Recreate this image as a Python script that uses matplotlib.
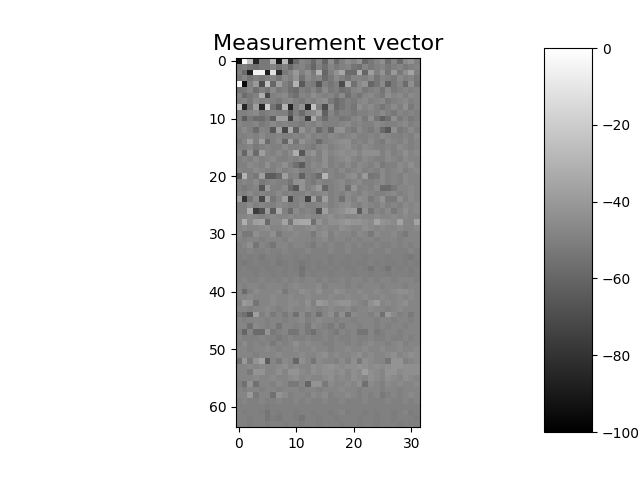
import matplotlib
matplotlib.use("Agg")
import matplotlib.pyplot as plt
import numpy as np

# values in dB
rows_00_15 = [
    [-95, -2, -25, -85, -52, -52, -28, -90, -28, -82, -58, -48, -50, -58, -48, -60, -45, -58, -50, -44, -48, -42, -58, -52, -48, -44, -56, -48, -58, -46, -42, -50],
    [-52, -50, -54, -56, -52, -52, -48, -55, -50, -58, -50, -48, -52, -60, -50, -56, -48, -52, -50, -48, -54, -56, -48, -52, -50, -48, -52, -50, -48, -52, -50, -48],
    [-50, -58, -88, -5, -5, -88, -12, -82, -52, -48, -40, -50, -44, -52, -30, -60, -50, -42, -35, -58, -58, -32, -60, -38, -50, -42, -54, -40, -52, -44, -36, -50],
    [-52, -48, -54, -50, -52, -50, -48, -54, -46, -50, -42, -55, -46, -50, -48, -58, -52, -46, -50, -54, -48, -48, -50, -46, -54, -48, -50, -52, -46, -50, -48, -52],
    [-3, -96, -50, -40, -70, -25, -60, -38, -50, -55, -30, -65, -50, -52, -66, -50, -54, -50, -70, -35, -56, -46, -42, -60, -54, -46, -62, -52, -48, -58, -44, -54],
    [-54, -52, -48, -56, -50, -54, -46, -52, -50, -56, -58, -50, -52, -48, -54, -46, -52, -50, -56, -54, -48, -46, -52, -50, -48, -54, -46, -52, -50, -48, -50, -48],
    [-48, -58, -52, -50, -32, -72, -50, -48, -46, -52, -56, -48, -50, -44, -48, -50, -48, -52, -46, -56, -50, -54, -48, -46, -50, -52, -44, -48, -46, -50, -46, -48],
    [-50, -48, -52, -46, -50, -48, -50, -52, -48, -46, -50, -52, -48, -50, -46, -44, -52, -58, -54, -50, -52, -48, -46, -50, -48, -46, -52, -50, -48, -46, -50, -48],
    [-25, -85, -55, -38, -85, -20, -55, -65, -30, -85, -50, -42, -85, -25, -50, -70, -44, -58, -54, -50, -54, -44, -48, -46, -50, -54, -50, -46, -50, -44, -52, -48],
    [-50, -50, -48, -46, -52, -50, -48, -50, -50, -62, -50, -58, -48, -46, -38, -62, -48, -54, -50, -50, -52, -50, -50, -48, -50, -46, -50, -52, -48, -50, -48, -50],
    [-50, -64, -52, -58, -58, -52, -64, -38, -38, -74, -46, -50, -76, -34, -50, -58, -50, -50, -54, -52, -48, -46, -52, -44, -54, -62, -56, -44, -52, -48, -52, -50],
    [-48, -50, -50, -48, -52, -50, -46, -50, -48, -50, -50, -52, -48, -50, -46, -50, -50, -50, -48, -46, -50, -48, -50, -50, -46, -48, -50, -50, -48, -46, -50, -48],
    [-50, -46, -50, -58, -48, -50, -66, -38, -72, -34, -62, -42, -50, -46, -58, -50, -60, -44, -42, -50, -52, -46, -50, -52, -48, -58, -66, -44, -52, -50, -46, -50],
    [-50, -50, -48, -50, -46, -50, -50, -48, -50, -50, -48, -50, -46, -50, -48, -50, -46, -48, -50, -48, -46, -50, -50, -48, -50, -46, -48, -50, -50, -48, -50, -46],
    [-52, -48, -38, -50, -38, -58, -50, -46, -60, -38, -54, -42, -48, -50, -58, -50, -48, -46, -44, -44, -50, -48, -50, -46, -50, -52, -46, -48, -50, -46, -50, -48],
    [-50, -50, -48, -52, -50, -48, -50, -50, -46, -50, -50, -48, -50, -52, -48, -46, -50, -48, -46, -44, -48, -50, -46, -48, -50, -50, -48, -50, -46, -48, -50, -48],
]

rows_16_31 = [
    [-46, -60, -42, -58, -38, -48, -50, -46, -50, -46, -32, -66, -46, -42, -50, -44, -48, -46, -44, -46, -44, -48, -44, -44, -44, -50, -46, -50, -48, -44, -48, -46],
    [-50, -48, -50, -46, -50, -48, -46, -50, -50, -48, -50, -46, -50, -48, -50, -44, -50, -48, -46, -44, -48, -50, -46, -48, -50, -50, -46, -48, -50, -46, -48, -48],
    [-50, -50, -46, -48, -50, -44, -50, -48, -44, -50, -56, -64, -50, -46, -48, -44, -50, -48, -50, -46, -50, -46, -48, -50, -46, -52, -50, -50, -46, -48, -44, -48],
    [-48, -50, -50, -46, -48, -50, -50, -46, -50, -48, -46, -50, -50, -48, -46, -50, -48, -50, -46, -50, -48, -46, -50, -48, -50, -46, -50, -48, -46, -50, -48, -46],
    [-66, -30, -50, -52, -38, -64, -64, -58, -38, -50, -48, -62, -50, -52, -58, -30, -48, -50, -50, -46, -44, -50, -40, -54, -52, -46, -50, -48, -50, -46, -48, -48],
    [-50, -48, -50, -46, -52, -50, -48, -50, -50, -54, -44, -42, -50, -52, -48, -50, -50, -48, -46, -50, -48, -46, -50, -50, -48, -46, -50, -48, -50, -46, -48, -48],
    [-50, -52, -50, -48, -66, -40, -50, -50, -46, -58, -66, -42, -50, -46, -40, -60, -50, -48, -46, -56, -42, -50, -48, -50, -46, -58, -58, -52, -48, -48, -46, -48],
    [-48, -50, -46, -50, -48, -50, -50, -46, -50, -48, -50, -50, -46, -50, -48, -46, -50, -48, -50, -46, -48, -50, -46, -48, -50, -50, -48, -46, -50, -48, -46, -48],
    [-38, -80, -54, -46, -72, -38, -54, -48, -38, -72, -50, -48, -74, -38, -56, -38, -50, -48, -56, -46, -50, -44, -46, -52, -48, -42, -52, -52, -44, -50, -46, -48],
    [-50, -50, -46, -50, -48, -50, -50, -46, -48, -50, -50, -46, -50, -50, -48, -46, -50, -48, -46, -44, -48, -50, -46, -48, -50, -46, -50, -48, -50, -46, -48, -46],
    [-50, -50, -32, -76, -68, -40, -64, -34, -50, -58, -46, -50, -48, -50, -68, -38, -48, -46, -44, -40, -38, -64, -44, -54, -48, -50, -46, -52, -48, -44, -48, -46],
    [-48, -48, -46, -48, -50, -48, -46, -48, -48, -46, -48, -48, -46, -48, -48, -46, -44, -48, -46, -48, -48, -46, -48, -48, -46, -48, -48, -46, -48, -46, -48, -48],
    [-48, -32, -46, -38, -36, -58, -46, -46, -36, -54, -36, -34, -34, -56, -42, -48, -44, -44, -42, -40, -42, -42, -44, -46, -36, -42, -44, -46, -36, -48, -48, -36],
    [-48, -46, -48, -48, -46, -44, -48, -48, -46, -44, -48, -48, -46, -44, -48, -46, -48, -48, -44, -46, -48, -48, -44, -46, -48, -46, -48, -48, -46, -48, -48, -46],
    [-46, -52, -52, -44, -48, -48, -44, -52, -48, -48, -46, -48, -48, -52, -46, -44, -50, -46, -48, -48, -50, -46, -48, -52, -46, -48, -48, -46, -50, -52, -48, -48],
    [-48, -50, -48, -48, -50, -48, -48, -48, -50, -46, -48, -48, -48, -50, -48, -46, -50, -48, -48, -50, -48, -50, -48, -48, -50, -48, -48, -48, -50, -48, -48, -48],
]

rows_32_47 = [
    [-50, -48, -44, -54, -48, -50, -54, -48, -48, -50, -48, -48, -50, -52, -48, -50, -48, -50, -50, -48, -50, -48, -50, -50, -48, -50, -50, -48, -50, -48, -50, -48],
    [-50, -50, -48, -50, -50, -48, -50, -50, -48, -50, -50, -50, -48, -50, -50, -50, -48, -50, -50, -48, -50, -50, -50, -48, -50, -50, -48, -50, -50, -50, -48, -50],
    [-51, -50, -51, -50, -52, -50, -50, -51, -50, -50, -51, -50, -51, -50, -50, -50, -51, -50, -50, -51, -50, -50, -51, -50, -50, -50, -51, -50, -50, -51, -52, -50],
    [-51, -52, -51, -50, -51, -51, -50, -52, -51, -50, -51, -52, -51, -50, -51, -50, -51, -50, -51, -51, -50, -51, -51, -50, -51, -50, -51, -51, -50, -51, -50, -51],
    [-51, -50, -51, -51, -50, -51, -51, -50, -51, -50, -51, -55, -51, -50, -51, -51, -50, -51, -50, -51, -51, -50, -51, -54, -50, -51, -55, -50, -51, -50, -51, -50],
    [-50, -50, -50, -51, -50, -50, -51, -50, -51, -50, -50, -54, -50, -51, -50, -50, -51, -50, -50, -50, -51, -50, -50, -51, -50, -50, -51, -50, -50, -50, -51, -50],
    [-50, -48, -50, -50, -48, -50, -49, -50, -48, -50, -48, -50, -48, -48, -50, -48, -50, -49, -48, -50, -48, -48, -50, -48, -50, -48, -48, -50, -48, -48, -48, -50],
    [-48, -50, -48, -48, -50, -48, -48, -48, -50, -48, -46, -48, -48, -48, -46, -50, -48, -48, -48, -50, -48, -50, -48, -48, -48, -50, -48, -48, -48, -50, -48, -48],
    [-48, -58, -50, -46, -48, -48, -48, -46, -52, -48, -48, -44, -46, -48, -44, -48, -48, -44, -46, -48, -48, -46, -48, -48, -46, -48, -48, -46, -44, -44, -46, -48],
    [-48, -48, -46, -48, -48, -48, -46, -48, -48, -46, -48, -48, -46, -48, -48, -48, -46, -48, -48, -46, -48, -48, -46, -48, -48, -46, -48, -48, -46, -48, -46, -48],
    [-50, -40, -42, -54, -48, -48, -46, -48, -48, -46, -46, -48, -44, -50, -40, -42, -46, -44, -42, -42, -46, -48, -50, -44, -40, -48, -46, -48, -46, -44, -48, -48],
    [-48, -48, -50, -48, -48, -46, -48, -50, -48, -46, -48, -48, -46, -48, -50, -48, -46, -48, -48, -46, -50, -48, -48, -46, -48, -48, -50, -48, -46, -48, -48, -48],
    [-52, -56, -64, -38, -50, -46, -52, -48, -52, -48, -56, -46, -52, -48, -56, -48, -44, -52, -44, -56, -46, -48, -48, -50, -46, -56, -40, -46, -50, -48, -52, -48],
    [-48, -50, -48, -48, -48, -50, -48, -48, -50, -48, -48, -46, -50, -48, -46, -48, -48, -50, -48, -48, -50, -48, -48, -48, -50, -48, -48, -50, -48, -48, -50, -48],
    [-48, -48, -56, -46, -48, -50, -48, -54, -48, -48, -50, -48, -52, -46, -48, -50, -52, -48, -52, -48, -48, -50, -48, -48, -50, -48, -50, -48, -48, -50, -48, -48],
    [-50, -60, -48, -58, -58, -42, -52, -50, -48, -54, -54, -48, -52, -56, -50, -48, -50, -52, -48, -50, -48, -54, -54, -48, -52, -50, -48, -48, -50, -48, -48, -48],
]

rows_48_63 = [
    [-48, -50, -50, -50, -48, -50, -50, -52, -50, -48, -50, -50, -48, -50, -50, -48, -50, -48, -50, -50, -48, -50, -50, -48, -50, -50, -48, -50, -50, -48, -50, -48],
    [-50, -46, -50, -48, -50, -48, -52, -48, -50, -48, -44, -48, -46, -48, -48, -50, -50, -48, -48, -50, -48, -50, -48, -46, -48, -48, -50, -48, -46, -50, -48, -48],
    [-48, -48, -50, -48, -48, -46, -48, -50, -48, -48, -46, -48, -48, -46, -48, -48, -50, -48, -48, -46, -48, -48, -46, -48, -48, -46, -48, -48, -46, -48, -48, -46],
    [-48, -48, -48, -50, -48, -48, -48, -46, -48, -48, -48, -46, -48, -48, -46, -44, -48, -46, -48, -48, -46, -44, -48, -46, -48, -48, -46, -44, -48, -46, -44, -46],
    [-56, -40, -52, -42, -36, -64, -48, -52, -46, -48, -60, -44, -48, -54, -46, -48, -48, -50, -46, -50, -44, -52, -44, -46, -48, -48, -54, -42, -42, -50, -48, -46],
    [-48, -48, -46, -48, -46, -48, -48, -46, -44, -48, -46, -48, -48, -44, -46, -44, -42, -44, -46, -44, -44, -42, -44, -46, -44, -46, -44, -42, -42, -44, -44, -44],
    [-48, -48, -52, -42, -42, -48, -48, -44, -48, -42, -42, -46, -48, -44, -46, -44, -44, -46, -44, -48, -44, -46, -38, -44, -46, -48, -42, -42, -46, -44, -44, -44],
    [-48, -48, -48, -46, -48, -48, -46, -48, -48, -46, -44, -48, -46, -48, -48, -46, -44, -48, -46, -48, -44, -46, -48, -44, -46, -48, -44, -46, -48, -44, -46, -48],
    [-50, -56, -42, -56, -48, -48, -50, -46, -48, -52, -52, -48, -60, -42, -42, -52, -46, -48, -48, -46, -48, -44, -56, -46, -48, -50, -46, -48, -46, -48, -48, -46],
    [-48, -50, -48, -48, -50, -48, -48, -50, -48, -48, -48, -50, -48, -48, -50, -48, -48, -48, -46, -48, -48, -50, -48, -48, -48, -50, -48, -48, -50, -48, -48, -48],
    [-48, -48, -40, -52, -48, -48, -56, -42, -46, -50, -48, -48, -50, -46, -48, -46, -50, -48, -48, -46, -48, -50, -48, -50, -48, -52, -50, -48, -50, -48, -46, -48],
    [-50, -48, -50, -50, -48, -50, -50, -48, -50, -50, -48, -50, -48, -50, -50, -48, -50, -50, -48, -50, -50, -50, -48, -50, -50, -50, -48, -50, -50, -48, -50, -48],
    [-50, -50, -50, -50, -50, -51, -50, -50, -50, -50, -50, -50, -50, -50, -50, -50, -50, -50, -50, -50, -50, -50, -50, -50, -50, -50, -50, -50, -50, -50, -50, -50],
    [-50, -51, -50, -50, -51, -54, -50, -51, -50, -50, -51, -50, -50, -51, -50, -50, -51, -50, -48, -51, -50, -50, -51, -50, -51, -50, -50, -51, -50, -48, -51, -50],
    [-50, -50, -51, -50, -50, -54, -51, -52, -50, -50, -51, -54, -50, -50, -51, -50, -50, -51, -50, -50, -50, -51, -50, -50, -51, -50, -50, -51, -50, -50, -50, -51],
    [-50, -50, -51, -50, -50, -51, -50, -50, -51, -50, -50, -51, -50, -50, -51, -50, -50, -50, -51, -50, -50, -51, -50, -50, -51, -50, -50, -50, -51, -50, -50, -50],
]

title = "Measurement vector"
x_ticks = [0, 10, 20, 30]
y_ticks = [0, 10, 20, 30, 40, 50, 60]
bar_ticks = [0, -20, -40, -60, -80, -100]

measurement = np.array(rows_00_15 + rows_16_31 + rows_32_47 + rows_48_63)

fig = plt.figure(figsize=(6.4, 4.8), dpi=100)
ax = fig.add_axes([236 / 640, 53 / 480, 184 / 640, 369 / 480])
cax = fig.add_axes([544 / 640, 48 / 480, 48 / 640, 384 / 480])

im = ax.imshow(measurement, cmap="gray", vmin=-100, vmax=0, aspect="auto", interpolation="nearest")
ax.set_xticks(x_ticks)
ax.set_yticks(y_ticks)
ax.set_title(title, fontsize=16, pad=6)

cbar = fig.colorbar(im, cax=cax)
cbar.set_ticks(bar_ticks)

fig.savefig("out.png", dpi=100)
